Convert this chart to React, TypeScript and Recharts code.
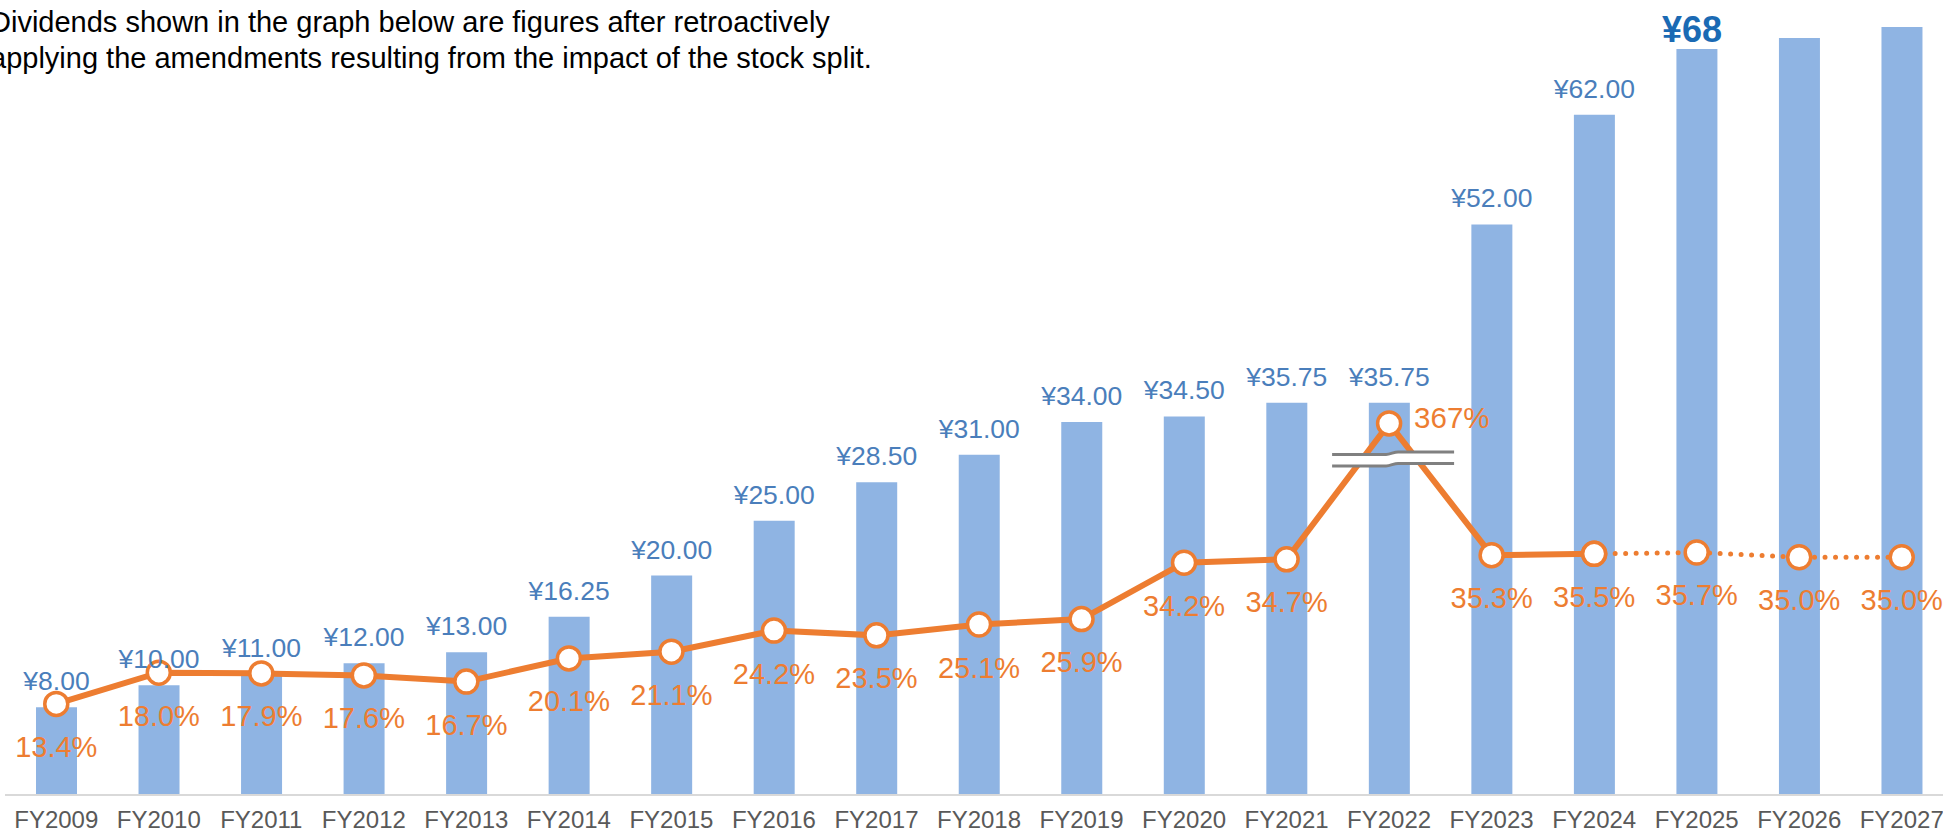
import React from 'react';
import { ComposedChart, Bar, Line, XAxis, YAxis, LabelList } from 'recharts';

// ---- data ----
const years = ['FY2009', 'FY2010', 'FY2011', 'FY2012', 'FY2013', 'FY2014', 'FY2015', 'FY2016', 'FY2017', 'FY2018', 'FY2019', 'FY2020', 'FY2021', 'FY2022', 'FY2023', 'FY2024', 'FY2025', 'FY2026', 'FY2027'];
const dividends = [8, 10, 11, 12, 13, 16.25, 20, 25, 28.5, 31, 34, 34.5, 35.75, 35.75, 52, 62, 68, 69, 70];
const dividendLabels = ['¥8.00', '¥10.00', '¥11.00', '¥12.00', '¥13.00', '¥16.25', '¥20.00', '¥25.00', '¥28.50', '¥31.00', '¥34.00', '¥34.50', '¥35.75', '¥35.75', '¥52.00', '¥62.00', '¥68', '', ''];
const payoutRatio = [13.4, 18.0, 17.9, 17.6, 16.7, 20.1, 21.1, 24.2, 23.5, 25.1, 25.9, 34.2, 34.7, 367, 35.3, 35.5, 35.7, 35.0, 35.0];
const ratioLabels = ['13.4%', '18.0%', '17.9%', '17.6%', '16.7%', '20.1%', '21.1%', '24.2%', '23.5%', '25.1%', '25.9%', '34.2%', '34.7%', '367%', '35.3%', '35.5%', '35.7%', '35.0%', '35.0%'];
const BREAK_INDEX = 13; // FY2022 drawn on a broken axis
const BREAK_PLOT_VALUE = 54.7; // height at which the broken-axis point is drawn
const LAST_ACTUAL_INDEX = 15; // FY2024: solid line ends, dotted forecast begins
const HIGHLIGHT_INDEX = 16; // FY2025 bold label
const titleLines = [
  'Dividends shown in the graph below are figures after retroactively',
  'applying the amendments resulting from the impact of the stock split.',
];

const data = years.map((year, i) => ({
  year,
  dividend: dividends[i],
  actual: i <= LAST_ACTUAL_INDEX ? (i === BREAK_INDEX ? BREAK_PLOT_VALUE : payoutRatio[i]) : null,
  forecast: i >= LAST_ACTUAL_INDEX ? payoutRatio[i] : null,
}));

const FONT = "'Liberation Sans', Arial, sans-serif";
const ORANGE = '#ED7D31';
const BAR_BLUE = '#8FB4E3';
const LABEL_BLUE = '#4A7EBB';

const XTick = (props: any) => {
  const { x, y, payload } = props;
  return (
    <text x={x} y={y} dy={33} textAnchor="middle" fill="#595959" fontSize={24} fontFamily={FONT}>
      {payload.value}
    </text>
  );
};

const BarLabel = (props: any) => {
  const { x, y, width, index } = props;
  const text = dividendLabels[index];
  if (!text) return null;
  const cx = x + width / 2;
  if (index === HIGHLIGHT_INDEX) {
    return (
      <text x={cx - 5} y={y - 7} textAnchor="middle" fill="#1A6AB4" fontSize={36} fontWeight="bold" fontFamily={FONT}>
        {text}
      </text>
    );
  }
  return (
    <text x={cx} y={y - 17} textAnchor="middle" fill={LABEL_BLUE} fontSize={26.5} fontFamily={FONT}>
      {text}
    </text>
  );
};

const BreakMark = ({ x, y }: { x: number; y: number }) => {
  const x0 = x - 57;
  const x1 = x + 65;
  const xm = x + 3;
  const top = `M${x0},${y + 31} L${xm - 6},${y + 31} C${xm - 2},${y + 31} ${xm + 2},${y + 28.5} ${xm + 6},${y + 28.5} L${x1},${y + 28.5}`;
  const bot = `M${x0},${y + 42.5} L${xm - 6},${y + 42.5} C${xm - 2},${y + 42.5} ${xm + 2},${y + 40} ${xm + 6},${y + 40} L${x1},${y + 40}`;
  const fill = `M${x0},${y + 31} L${xm - 6},${y + 31} C${xm - 2},${y + 31} ${xm + 2},${y + 28.5} ${xm + 6},${y + 28.5} L${x1},${y + 28.5} L${x1},${y + 40} L${xm + 6},${y + 40} C${xm + 2},${y + 40} ${xm - 2},${y + 42.5} ${xm - 6},${y + 42.5} L${x0},${y + 42.5} Z`;
  return (
    <g>
      <path d={fill} fill="#ffffff" stroke="none" />
      <path d={top} fill="none" stroke="#808080" strokeWidth={3} />
      <path d={bot} fill="none" stroke="#808080" strokeWidth={3} />
    </g>
  );
};

const makeRatioLabel = (from: number, to: number) => (props: any) => {
  const { x, y, index, value } = props;
  if (value == null || index < from || index > to) return null;
  const text = ratioLabels[index];
  if (index === BREAK_INDEX) {
    return (
      <g>
        <BreakMark x={x} y={y} />
        <text x={x + 25} y={y + 5} textAnchor="start" fill={ORANGE} fontSize={29.5} fontFamily={FONT}>
          {text}
        </text>
      </g>
    );
  }
  return (
    <text x={x} y={y + 53} textAnchor="middle" fill={ORANGE} fontSize={29} fontFamily={FONT}>
      {text}
    </text>
  );
};

const dotStyle = { r: 11.5, fill: '#ffffff', stroke: ORANGE, strokeWidth: 3.5, strokeDasharray: 'none' };

export default function App() {
  return (
    <div style={{ position: 'fixed', left: 0, top: 0, width: 1943, height: 833, overflow: 'hidden', background: '#ffffff' }}>
      <div style={{ position: 'absolute', left: 5, top: 0 }}>
        <ComposedChart width={1948} height={833} data={data} margin={{ top: 5, right: 0, bottom: 0, left: 0 }}>
          <XAxis
            dataKey="year"
            height={38}
            interval={0}
            tickLine={false}
            tickSize={0}
            tickMargin={0}
            axisLine={{ stroke: '#D9D9D9', strokeWidth: 2 }}
            tick={<XTick />}
          />
          <YAxis yAxisId="left" hide domain={[0, 72]} />
          <YAxis yAxisId="right" orientation="right" hide domain={[0, 116.3]} />
          <Bar yAxisId="left" dataKey="dividend" fill={BAR_BLUE} barSize={41} isAnimationActive={false}>
            <LabelList dataKey="dividend" content={<BarLabel />} />
          </Bar>
          <Line
            yAxisId="right"
            dataKey="actual"
            stroke={ORANGE}
            strokeWidth={6}
            dot={dotStyle}
            activeDot={false}
            isAnimationActive={false}
            connectNulls={false}
          >
            <LabelList dataKey="actual" content={makeRatioLabel(0, LAST_ACTUAL_INDEX)} />
          </Line>
          <Line
            yAxisId="right"
            dataKey="forecast"
            stroke={ORANGE}
            strokeWidth={5}
            strokeDasharray="0 10.5"
            strokeLinecap="round"
            dot={dotStyle}
            activeDot={false}
            isAnimationActive={false}
          >
            <LabelList dataKey="forecast" content={makeRatioLabel(LAST_ACTUAL_INDEX + 1, years.length - 1)} />
          </Line>
        </ComposedChart>
      </div>
      <svg width={1943} height={80} style={{ position: 'absolute', left: 0, top: 0 }}>
        {titleLines.map((t, i) => (
          <text key={i} x={-10} y={32 + i * 36} fill="#000000" fontSize={29} fontFamily={FONT}>
            {t}
          </text>
        ))}
      </svg>
    </div>
  );
}
